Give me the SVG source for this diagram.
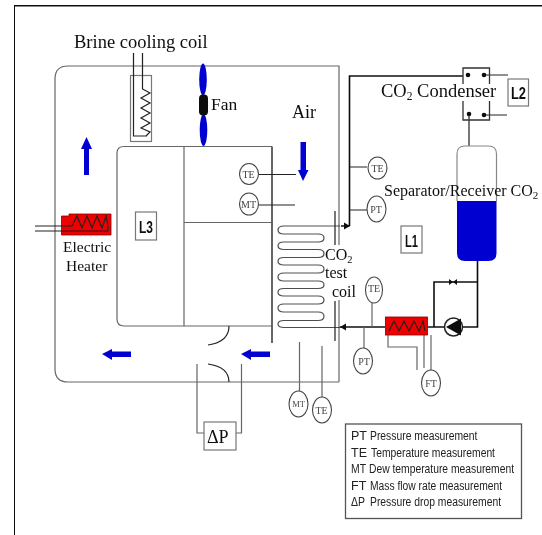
<svg xmlns="http://www.w3.org/2000/svg" width="542" height="535" viewBox="0 0 542 535">
<style>
.g{fill:none;stroke:#666;stroke-width:1.2}
.k{fill:none;stroke:#222;stroke-width:1.2}
.p{fill:none;stroke:#111;stroke-width:1.6}
.c{fill:#fff;stroke:#444;stroke-width:1.1}
.b{fill:#fff;stroke:#777;stroke-width:1.2}
.s{font-family:"Liberation Serif",serif;fill:#111}
.i{font-family:"Liberation Serif",serif;font-size:10px;fill:#444;text-anchor:middle}
.l{font-family:"Liberation Sans",sans-serif;font-size:17px;font-weight:bold;fill:#111}
.m{font-family:"Liberation Sans",sans-serif;font-size:12.5px;fill:#222}
.d{fill:#111}
.u{fill:#0000d0}
.r{fill:#ee0000;stroke:#800;stroke-width:.8}
</style>
<defs><filter id="soft" x="0" y="0" width="100%" height="100%"><feGaussianBlur stdDeviation="0.35"/></filter></defs>
<g filter="url(#soft)">
<g id="frame"><path d="M14 535V5.500H542" fill="none" stroke="#111" stroke-width="2"/></g>
<g id="connectors">
<path class="g" d="M339 382H68Q55 382 55 369V79Q55 66 68 66H339V245M339 300V382"/>
<path class="g" d="M272 326H124Q117 326 117 319V153Q117 146.500 124 146.500H272"/>
<path class="g" d="M184 146.500V326M184 222.500H272"/>
<path d="M272 146.500V343" fill="none" stroke="#555" stroke-width="1.800"/>
<path class="k" d="M259 174.500H296M259 205H295"/>
<path class="k" d="M229 326Q229 342 208 345M229 382Q229 367 208 364"/>
<path class="g" d="M197 364V433H204M241.500 364V433H236"/>
<path class="k" d="M335 211V245M335 301V341"/>
<path class="k" stroke-opacity=".8" d="M340 226H284C276 226 276 234 284 234H318C326 234 326 242 318 242H284C276 242 276 249.500 284 249.500H318C326 249.500 326 257.500 318 257.500H284C276 257.500 276 265 284 265H318C326 265 326 273 318 273H284C276 273 276 281 284 281H318C326 281 326 288.500 318 288.500H284C276 288.500 276 296 284 296H318C326 296 326 304 318 304H284C276 304 276 312 284 312H318C326 312 326 320.500 318 320.500H284C276 320.500 276 327.500 284 327.500H340"/>
<path class="p" d="M340 327H385M427 327H445M463 327H477.500V261M434 327V282H477.500"/>
<path class="p" d="M341 226H349.500M349.500 226V76H463"/>
<path class="k" d="M350 167H367M350 210H367"/>
<path d="M350 226l-6-3.500v7zM340 327l6-3.500v7z" class="d"/>
<path class="g" d="M372 303V327M364 327V348M431 335V370M424 335V368M388 335V347H417V370M299.500 342V391M322 346V398"/>
<path class="k" d="M469 146V113M484 75H508M484 115H507"/>
<path d="M463 84V68H489.500V84M463 101V120H489.500V101" fill="none" stroke="#333" stroke-width="1.300"/>
<circle class="d" cx="468" cy="75" r="2.300"/><circle class="d" cx="484" cy="75" r="2.300"/>
<circle class="d" cx="469" cy="114" r="2.300"/><circle class="d" cx="484" cy="115" r="2.300"/>
<path class="d" d="M449 279v6l4-3zM457 279v6l-4-3z"/>
</g>
<g id="brine-coil">
<rect class="b" x="130.500" y="75.500" width="21" height="66"/>
<path class="k" d="M133.500 53V136H147M142.500 53V89L150 93L141 98L150 103L141 108L150 113L141 118L150 123L141 128L150 132L146 136"/>
<text class="s" x="74" y="48" font-size="18.500">Brine cooling coil</text>
</g>
<g id="fan">
<ellipse class="u" cx="203" cy="79.500" rx="3.800" ry="16"/>
<ellipse class="u" cx="203.500" cy="130" rx="3.800" ry="16"/>
<rect class="d" x="199" y="94.500" width="9" height="21" rx="4"/>
<text class="s" x="211" y="110" font-size="17.500">Fan</text>
</g>
<g id="air-label"><text class="s" x="292" y="118" font-size="18">Air</text></g>
<g id="flow-arrows">
<path class="u" d="M84 175V149H81L86.500 137L92 149H89V175Z"/>
<path class="u" d="M300.500 142V170H298L303 181L308.500 170H306V142Z"/>
<path class="u" d="M131 351.500H112V349L102 354L112 360V357H131Z"/>
<path class="u" d="M270 351.500H251V349L241 354L251 360V357H270Z"/>
</g>
<g id="heater-air">
<path class="r" d="M61.500 216H69V214H111V235H61.500Z"/>
<path class="k" d="M35 226H72L77 216L82 228L87 216L92 228L97 216L102 228L106 216L108 226V231H35"/>
<text class="s" x="63" y="252" font-size="15.500">Electric</text>
<text class="s" x="66" y="271" font-size="15.500">Heater</text>
</g>
<g id="L3"><rect class="b" x="135.500" y="212" width="21" height="28"/><text class="l" x="139" y="232.500" textLength="14" lengthAdjust="spacingAndGlyphs">L3</text></g>
<g id="L1"><rect class="b" x="401" y="226" width="21" height="27"/><text class="l" x="405" y="246.500" textLength="13" lengthAdjust="spacingAndGlyphs">L1</text></g>
<g id="L2"><rect class="b" x="508" y="79" width="20.500" height="27"/><text class="l" x="511" y="99" textLength="15" lengthAdjust="spacingAndGlyphs">L2</text></g>
<g id="dP"><rect class="b" x="204" y="422" width="32" height="28"/><text class="s" x="207" y="443" font-size="18">ΔP</text></g>
<g id="TE1"><ellipse class="c" cx="249" cy="174" rx="9.500" ry="10.500"/><text class="i" x="248.500" y="177.500">TE</text></g>
<g id="MT1"><ellipse class="c" cx="249" cy="204" rx="9.500" ry="11"/><text class="i" x="248.500" y="207.500">MT</text></g>
<g id="TE2"><ellipse class="c" cx="377.500" cy="168" rx="9.500" ry="11"/><text class="i" x="377.500" y="171.500">TE</text></g>
<g id="PT1"><ellipse class="c" cx="376.500" cy="209" rx="9.500" ry="13"/><text class="i" x="376" y="212.500">PT</text></g>
<g id="TE3"><ellipse class="c" cx="374" cy="290" rx="8.500" ry="13"/><text class="i" x="374" y="291.500">TE</text></g>
<g id="PT2"><ellipse class="c" cx="363" cy="361" rx="9.500" ry="13"/><text class="i" x="364" y="364.500">PT</text></g>
<g id="FT"><ellipse class="c" cx="431" cy="383" rx="9.500" ry="13"/><text class="i" x="431" y="386.500">FT</text></g>
<g id="MT2"><ellipse class="c" cx="298.500" cy="404" rx="9.500" ry="13"/><text class="i" x="298.500" y="407" style="font-size:8.500px">MT</text></g>
<g id="TE4"><ellipse class="c" cx="322" cy="410" rx="9.500" ry="13"/><text class="i" x="321.500" y="413.500">TE</text></g>
<g id="condenser"><text class="s" x="381" y="97" font-size="18.500">CO<tspan font-size="11.500" dy="3">2</tspan><tspan dy="-3"> Condenser</tspan></text></g>
<g id="receiver">
<path d="M457 201H496.500V253Q496.500 261 488.500 261H465Q457 261 457 253Z" fill="#0000d0"/>
<path d="M457 201V154Q457 146 465 146H488.500Q496.500 146 496.500 154V201" fill="#fff" stroke="#888" stroke-width="1.200"/>
<text class="s" x="384" y="196" font-size="16">Separator/Receiver CO<tspan font-size="11" dy="3">2</tspan></text>
</g>
<g id="test-coil">
<text class="s" x="325" y="260" font-size="16">CO<tspan font-size="10.500" dy="3">2</tspan></text>
<text class="s" x="325" y="278" font-size="16">test</text>
<text class="s" x="332" y="297" font-size="16">coil</text>
</g>
<g id="heater-co2">
<rect class="r" x="385.500" y="317" width="42" height="18"/>
<path class="k" d="M389 331L394 321L399 331L404 321L409 331L414 321L419 331L423 321L425 331"/>
</g>
<g id="pump">
<circle cx="453.500" cy="327" r="9" fill="#fff" stroke="#222" stroke-width="1.500"/>
<path class="d" d="M446 327L461 318.500V335.500Z"/>
</g>
<g id="legend">
<rect x="345.500" y="424" width="176" height="94.500" fill="#fff" stroke="#555" stroke-width="1.300"/>
<text class="m" x="351" y="440">PT</text><text class="m" x="370" y="440" textLength="107.500" lengthAdjust="spacingAndGlyphs">Pressure measurement</text>
<text class="m" x="351" y="457">TE</text><text class="m" x="371" y="457" textLength="124" lengthAdjust="spacingAndGlyphs">Temperature measurement</text>
<text class="m" x="351" y="473" textLength="15" lengthAdjust="spacingAndGlyphs">MT</text><text class="m" transform="translate(369 473) scale(.86 1)" x="0" y="0" textLength="168.600" lengthAdjust="spacingAndGlyphs">Dew temperature measurement</text>
<text class="m" x="351" y="490">FT</text><text class="m" x="370" y="490" textLength="132" lengthAdjust="spacingAndGlyphs">Mass flow rate measurement</text>
<text class="m" x="351" y="506" textLength="14" lengthAdjust="spacingAndGlyphs">ΔP</text><text class="m" x="370" y="506" textLength="131" lengthAdjust="spacingAndGlyphs">Pressure drop measurement</text>
</g>
</g>
</svg>
